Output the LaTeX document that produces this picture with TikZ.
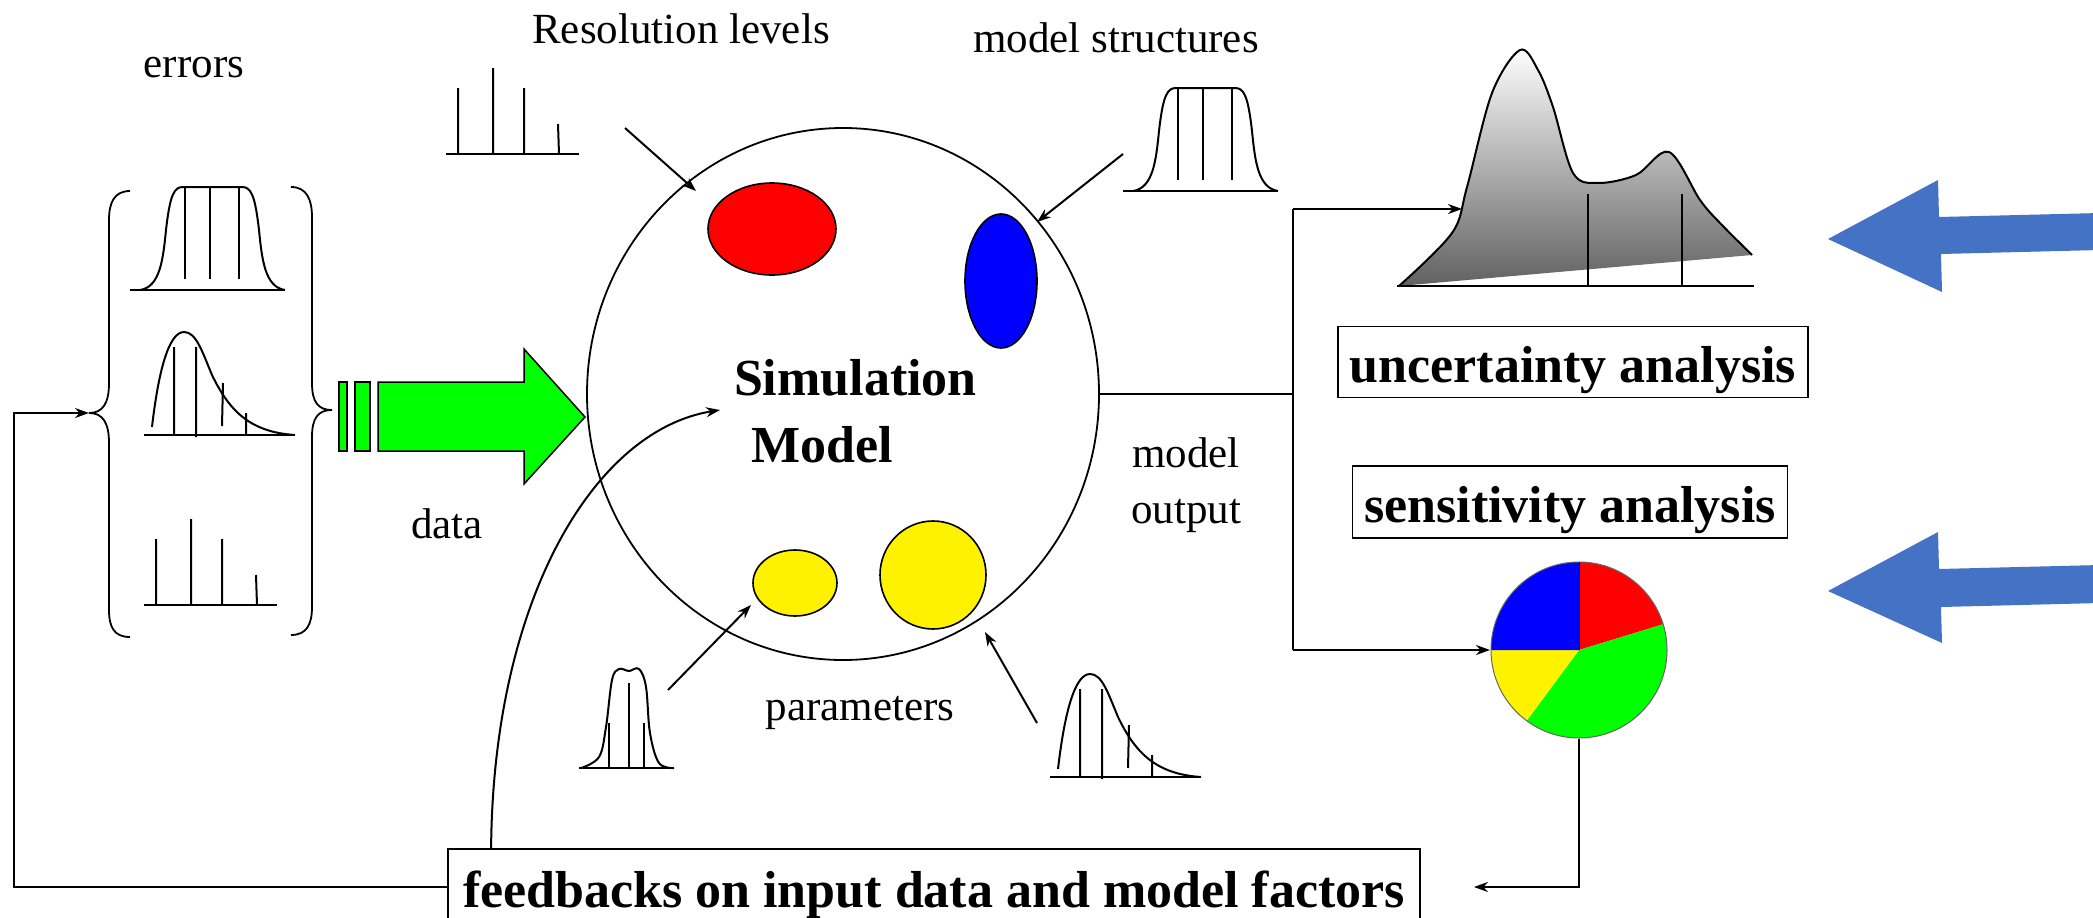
\documentclass[tikz,border=0pt]{standalone}
\usepackage{fontspec}
\setmainfont{Liberation Serif}
\usetikzlibrary{arrows.meta,shapes.geometric}
\definecolor{arrowblue}{HTML}{4472C4}

\begin{document}
\begin{tikzpicture}[x=1pt,y=-1pt,line width=2pt,
    lbl/.style={font=\fontsize{43}{50}\selectfont,inner sep=0pt,anchor=base},
    bigtxt/.style={font=\fontsize{52}{60}\selectfont\bfseries,inner sep=0pt,anchor=base west},
    factbox/.style={draw,line width=1.8pt,font=\fontsize{52}{60}\selectfont\bfseries,
        inner sep=0pt,text height=45pt,text depth=5pt},
    arr/.style={-{Stealth[length=14pt,width=10pt]}},
    blob/.style={ellipse,draw,line width=1.6pt,inner sep=0pt},
    flatpdf/.pic={
        \draw (0,0) -- (155,0);
        \draw (10,0) .. controls (30,-3) and (33,-30) .. (36,-60) .. controls (40,-95) and (44,-103) .. (53,-103)
            -- (112,-103) .. controls (121,-103) and (125,-95) .. (129,-60) .. controls (132,-30) and (135,-3) .. (155,0);
        \foreach \u in {55,80,109} \draw (\u,-11) -- (\u,-103);
    },
    skewpdf/.pic={
        \draw (0,0) -- (151,0);
        \draw (8,-8) .. controls (14,-60) and (24,-103) .. (40,-103) .. controls (52,-103) and (58,-84) .. (68,-60)
            .. controls (85,-25) and (105,-3) .. (151,0);
        \draw (30,0) -- (30,-88) (52,2) -- (52,-88) (78,-9) -- (79,-52) (102,0) -- (102,-22);
    },
    spikepdf/.pic={
        \draw (0,0) -- (133,0);
        \draw (12,0) -- (12,-66) (47,0) -- (47,-86) (78,0) -- (78,-66) (113,0) -- (112,-30);
    }]
    \useasboundingbox (0,0) rectangle (2093,918);
    \clip (0,0) rectangle (2093,918);

    \node[ellipse,draw,line width=1.8pt,minimum width=512,minimum height=532,inner sep=0pt] (sim) at (843,394) {};
    \node[blob,fill=red,minimum width=128,minimum height=92] (reslvl) at (772,229) {};
    \node[blob,fill=blue,minimum width=72,minimum height=134] (struct) at (1001,281) {};
    \node[blob,fill=yellow,minimum width=84,minimum height=66] (parA) at (795,583) {};
    \node[blob,fill=yellow,minimum width=106,minimum height=108] (parB) at (933,575) {};
    \node[bigtxt] (simA) at (733,395) {Simulation};
    \node[bigtxt] (simB) at (750,462) {Model};

    \node[lbl] (errlbl) at (194,77) {errors};
    \node[lbl] (reslbl) at (681,43) {Resolution levels};
    \node[lbl] (structlbl) at (1116,52) {model structures};
    \node[lbl] (datalbl) at (447,538) {data};
    \node[lbl] (parlbl) at (860,720) {parameters};
    \node[lbl,anchor=center,align=center,font=\fontsize{43}{56}\selectfont] (outlbl) at (1186,485) {model\\output};

    \node[factbox,minimum width=470,minimum height=71] (ua) at (1573,362) {uncertainty analysis};
    \node[factbox,minimum width=435,minimum height=72] (sa) at (1570,502) {sensitivity analysis};
    \node[factbox,minimum width=972,minimum height=76] (fb) at (934,887) {feedbacks on input data and model factors};

    % errors
    \draw[line width=1.8pt] (130,191) .. controls (114,191) and (109,203) .. (109,220) -- (109,383)
        .. controls (109,403) and (103,413) .. (89,413) .. controls (103,413) and (109,423) .. (109,443)
        -- (109,610) .. controls (109,627) and (114,637) .. (130,637);
    \draw[line width=1.8pt] (291,187) .. controls (307,187) and (312,200) .. (312,217) -- (312,383)
        .. controls (312,402) and (318,410) .. (332,410) .. controls (318,410) and (312,418) .. (312,437)
        -- (312,607) .. controls (312,624) and (307,635) .. (291,635);
    \pic at (130,290) {flatpdf};
    \pic at (144,435) {skewpdf};
    \pic at (144,605) {spikepdf};

    \draw[fill=green,line width=1.5pt] (339,382) rectangle (347,451);
    \draw[fill=green,line width=1.5pt] (355,382) rectangle (370,451);
    \draw[fill=green,line width=1.5pt] (378,382) -- (524,382) -- (524,349) -- (585,417) -- (524,484)
        -- (524,451) -- (378,451) -- cycle;

    % model factors
    \pic at (446,154) {spikepdf};
    \pic at (1123,191) {flatpdf};
    \pic at (1050,777) {skewpdf};
    \draw (579,768) -- (674,768);
    \draw plot[smooth,tension=0.6] coordinates {(581,768) (599,757) (606,727) (612,680) (619,669)
        (629,671) (639,669) (646,687) (650,733) (659,763) (674,768)};
    \draw (609,723) -- (609,768) (629,683) -- (629,768) (644,723) -- (644,768);

    \coordinate (resfrom) at (625,128);
    \coordinate (resto) at (696,191);
    \coordinate (structfrom) at (1123,154);
    \coordinate (structto) at (1037,222);
    \coordinate (parAfrom) at (668,690);
    \coordinate (parAto) at (751,605);
    \coordinate (parBfrom) at (1037,723);
    \coordinate (parBto) at (985,632);
    \draw[arr] (resfrom) -- (resto);
    \draw[arr] (structfrom) -- (structto);
    \draw[arr] (parAfrom) -- (parAto);
    \draw[arr] (parBfrom) -- (parBto);

    % uncertainty
    \shade[top color=white,bottom color=black!62] plot[smooth,tension=0.55] coordinates {(1399,286) (1452,233)
        (1467,187) (1492,93) (1520,50) (1538,70) (1553,107) (1573,173) (1598,183) (1636,175) (1669,152)
        (1700,200) (1720,223) (1752,255)} -- cycle;
    \draw plot[smooth,tension=0.55] coordinates {(1399,286) (1452,233) (1467,187) (1492,93) (1520,50)
        (1538,70) (1553,107) (1573,173) (1598,183) (1636,175) (1669,152) (1700,200) (1720,223) (1752,255)};
    \draw (1397,286) -- (1754,286);
    \draw (1588,194) -- (1588,286) (1682,194) -- (1682,286);

    % sensitivity
    \node[circle,minimum size=176,inner sep=0pt] (pie) at (1579,650) {};
    \fill[red] (pie.center) -- ++(90:88pt) arc[start angle=90,end angle=17,radius=88pt] -- cycle;
    \fill[green] (pie.center) -- ++(17:88pt) arc[start angle=17,end angle=-126.5,radius=88pt] -- cycle;
    \fill[yellow] (pie.center) -- ++(-126.5:88pt) arc[start angle=-126.5,end angle=-180,radius=88pt] -- cycle;
    \fill[blue] (pie.center) -- ++(180:88pt) arc[start angle=180,end angle=90,radius=88pt] -- cycle;
    \draw[line width=1pt,black!60] (pie.center) circle[radius=88pt];
    \draw[line width=1pt] (pie.center) -- ++(90:88pt);

    \fill[arrowblue] (1828,239) -- (1938,180) -- (1939,217) -- (2100,213) -- (2100,250) -- (1941,254)
        -- (1942,292) -- cycle;
    \fill[arrowblue] (1828,591) -- (1938,532) -- (1939,569) -- (2100,565) -- (2100,603) -- (1941,607)
        -- (1942,643) -- cycle;

    % connectors
    \coordinate (outjoin) at (1293,394);
    \coordinate (dens) at (1462,209);
    \coordinate (errtip) at (89,413);
    \coordinate (loopx) at (14,0);
    \coordinate (simarr) at (720,410);
    \draw (sim.east) -- (outjoin);
    \draw (outjoin |- dens) -- (outjoin |- pie);
    \draw[arr] (outjoin |- dens) -- (dens);
    \draw[arr] (outjoin |- pie) -- (pie.west);
    \draw[arr] (pie.south) |- ([xshift=53pt]fb.east);
    \draw[arr] (fb.west) -| (loopx |- errtip) -- (errtip);
    \draw[arr] ([xshift=44pt]fb.north west) .. controls +(2,-250) and +(-125,20) .. (simarr);
\end{tikzpicture}
\end{document}
